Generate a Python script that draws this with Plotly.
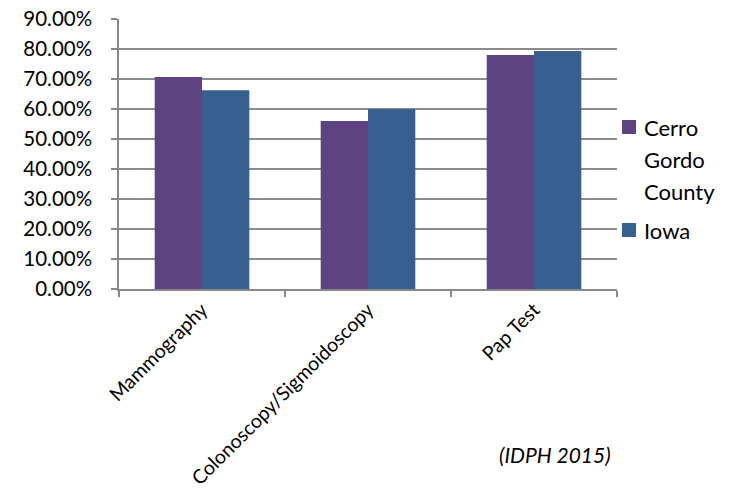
import plotly.graph_objects as go

categories = ["Mammography", "Colonoscopy/Sigmoidoscopy", "Pap Test"]
cerro_gordo = [0.7067, 0.560, 0.780]
iowa = [0.663, 0.600, 0.794]
series_names = ["Cerro Gordo County", "Iowa"]
legend_lines = [["Cerro", "Gordo", "County"], ["Iowa"]]
series_colors = ["#5E4382", "#36608F"]
y_ticks = [0, 0.1, 0.2, 0.3, 0.4, 0.5, 0.6, 0.7, 0.8, 0.9]
y_tick_labels = ["0.00%", "10.00%", "20.00%", "30.00%", "40.00%", "50.00%",
                 "60.00%", "70.00%", "80.00%", "90.00%"]
source_text = "(IDPH 2015)"

FONT = "Lato"
W, H = 729, 494
L, T = 119, 19
PW, PH = 498, 270
R, B = W - L - PW, H - T - PH


def px(x):
    return (x - L) / PW


def py(y):
    return (T + PH - y) / PH


fig = go.Figure()
fig.add_trace(go.Bar(x=categories, y=cerro_gordo, name=series_names[0],
                     marker=dict(color=series_colors[0], line=dict(width=0))))
fig.add_trace(go.Bar(x=categories, y=iowa, name=series_names[1],
                     marker=dict(color=series_colors[1], line=dict(width=0))))

shapes = []
annotations = []
# manual legend (swatch next to first line of each entry)
legend_tops = [127, 230]
line_gap = 32
for i, lines in enumerate(legend_lines):
    yc = legend_tops[i]
    shapes.append(dict(type="rect", xref="paper", yref="paper",
                       x0=px(622), x1=px(636), y0=py(yc - 7), y1=py(yc + 7),
                       fillcolor=series_colors[i], line=dict(width=0)))
    for j, t in enumerate(lines):
        annotations.append(dict(text=t, xref="paper", yref="paper",
                                x=px(642), y=py(yc + j * line_gap),
                                xanchor="left", yanchor="middle", showarrow=False,
                                font=dict(size=22, family=FONT, color="#000000")))

annotations.append(dict(text=source_text, xref="paper", yref="paper",
                        x=px(613), y=py(455), xanchor="right", yanchor="middle",
                        showarrow=False,
                        font=dict(size=21, family=FONT, style="italic", color="#000000")))

fig.update_layout(
    width=W, height=H,
    margin=dict(l=L, r=R, t=T, b=B, autoexpand=False),
    paper_bgcolor="white", plot_bgcolor="white",
    barmode="group", bargap=0.43, bargroupgap=0,
    font=dict(family=FONT, color="#000000"),
    showlegend=False,
    xaxis=dict(type="category", tickangle=-45, tickfont=dict(size=19.5, family=FONT),
               showgrid=False, showline=True, linecolor="#888888", linewidth=1.5,
               ticks="outside", tickson="boundaries", ticklen=6, tickcolor="#888888",
               tickwidth=1.5, range=[-0.5, 2.5], automargin=False,
               ticklabeloverflow="allow"),
    yaxis=dict(range=[0, 0.9004], tickvals=y_ticks, ticktext=y_tick_labels,
               tickfont=dict(size=20.5, family=FONT), showgrid=True,
               gridcolor="#8C8C8C", gridwidth=1.5, showline=True,
               linecolor="#888888", linewidth=1.5, ticks="outside", ticklen=6,
               tickcolor="#888888", tickwidth=1.5, zeroline=False,
               ticklabelstandoff=15, automargin=False, ticklabeloverflow="allow"),
    shapes=shapes,
    annotations=annotations,
)
fig.write_html("out.html", config={"displayModeBar": False},
               post_script="document.body.style.margin='0';")
